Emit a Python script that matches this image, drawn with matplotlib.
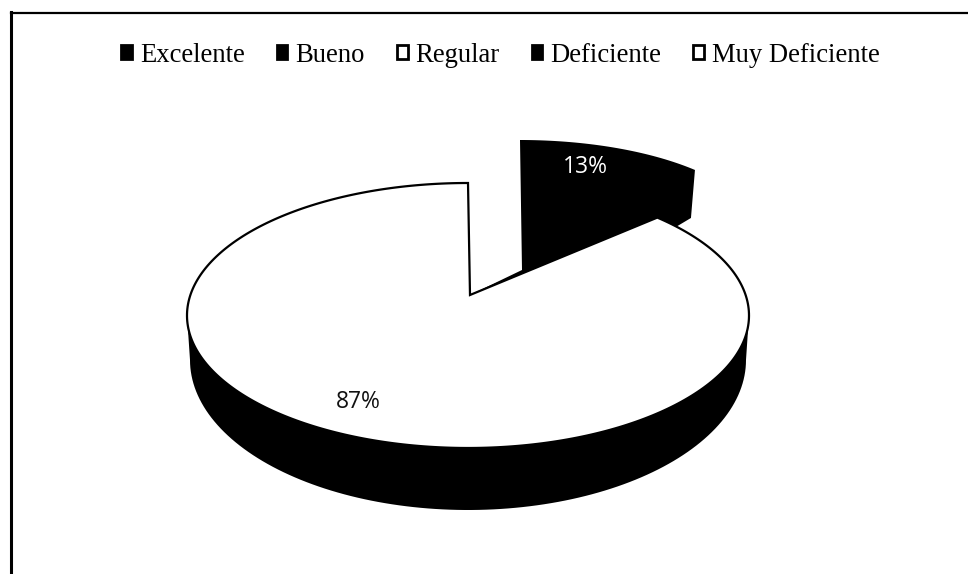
import numpy as np
import matplotlib
matplotlib.use('Agg')
import matplotlib.pyplot as plt
from matplotlib.patches import Patch

# Data
categorias = ['Excelente', 'Bueno', 'Regular', 'Deficiente', 'Muy Deficiente']
valores = [0, 13, 87, 0, 0]
colores_leyenda = ['black', 'black', 'white', 'black', 'white']

# Geometry of the fake 3D pie, in pixels of the picture
cx, cy, rx, ry = 468, 315.5, 281, 132.5
apex = (470, 295)
cy_low, rx_low, ry_low = 360, 278, 150
# exploded slice
cx_ex, cy_ex, rx_ex, ry_ex = 520, 235, 240, 95
apex_ex = (522, 270)
alto_ex = 48


def rim(theta, x0, y0, a, b):
    # theta in degrees, clockwise from 12 o'clock
    t = np.radians(theta)
    return x0 + a * np.sin(t), y0 - b * np.cos(t)


fig = plt.figure(figsize=(9.68, 5.74), dpi=100)
ax = fig.add_axes([0, 0, 1, 1])
ax.set_xlim(0, 968)
ax.set_ylim(574, 0)
ax.axis('off')

total = sum(valores)
angulo = 360 * valores[1] / total
# perspective pulls the visible edge of the big slice back a little
angulo_vis = angulo * 0.905

# exploded dark slice
th = np.linspace(0, angulo, 40)
x, y = rim(th, cx_ex, cy_ex, rx_ex, ry_ex)
xr, yr = rim(angulo, cx, cy, rx, ry)
xs = [apex_ex[0]] + list(x) + [x[-1] - 4, xr + 5, apex[0]]
ys = [apex_ex[1]] + list(y) + [y[-1] + alto_ex, yr + 1, apex[1]]
ax.fill(xs, ys, color='black', lw=0, zorder=2)

# side wall
th = np.linspace(90, 270, 120)
x1, y1 = rim(th, cx, cy, rx, ry)
x2, y2 = rim(th[::-1], cx, cy_low, rx_low, ry_low)
ax.fill(np.r_[x1, x2], np.r_[y1, y2], color='black', lw=0, zorder=3)

# big white slice
th = np.linspace(angulo_vis, 360, 300)
x, y = rim(th, cx, cy, rx, ry)
ax.fill(np.r_[apex[0], x], np.r_[apex[1], y], facecolor='white', edgecolor='black', lw=1.6, zorder=4)

ax.text(358, 402, '%d%%' % valores[2], color='#111111', fontsize=16.5, family='Open Sans', ha='center', va='center', zorder=5)
ax.text(585, 167, '%d%%' % valores[1], color='white', fontsize=16.5, family='Open Sans', ha='center', va='center', zorder=5)

# border, no right or bottom side in the scan
ax.plot([11, 11], [574, 12], color='black', lw=2.2, zorder=1)
ax.plot([11, 968], [12.5, 12.5], color='black', lw=1.6, zorder=1)

handles = [Patch(facecolor=c, edgecolor='black', lw=2) for c in colores_leyenda]
ax.legend(handles, categorias, ncol=5, loc='center', bbox_to_anchor=(500.5 / 968, 1 - 55 / 574),
          frameon=False, prop={'family': 'Liberation Serif', 'size': 19.2},
          handlelength=0.4, handleheight=0.4, handletextpad=0.3, columnspacing=1.2)

fig.savefig('out.png', dpi=100)
